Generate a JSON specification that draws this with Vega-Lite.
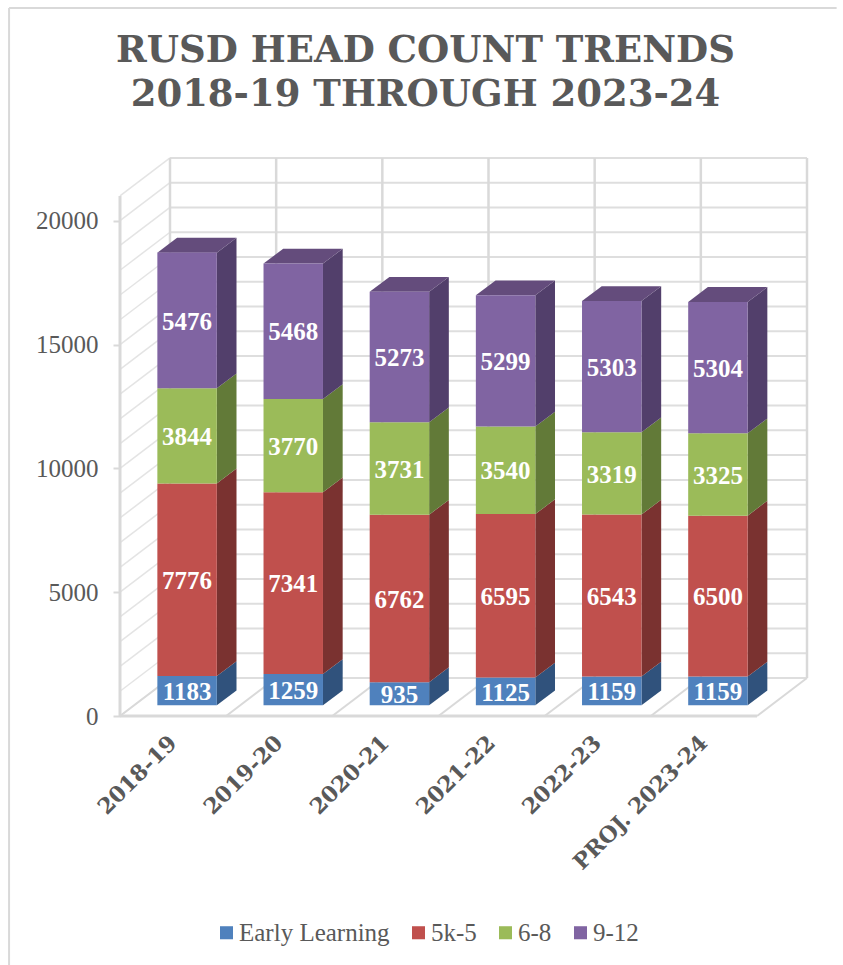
{
"$schema":"https://vega.github.io/schema/vega-lite/v6.json",
"width":637,"height":558,
"autosize":{"type":"none"},
"padding":{"left":120,"top":158,"right":86,"bottom":249},
"background":"white",
"view":{"stroke":null},
"title":{"text":["RUSD HEAD COUNT TRENDS","2018-19 THROUGH 2023-24"],"font":"DejaVu Serif","fontWeight":"bold","fontSize":37,"color":"#595959","lineHeight":44,"anchor":"middle","frame":"group","dx":-13,"offset":-136,"baseline":"alphabetic"},
"datasets":{
"enrollment":[
{"year":"2018-19","grade":"Early Learning","level":1,"value":1183},
{"year":"2018-19","grade":"5k-5","level":2,"value":7776},
{"year":"2018-19","grade":"6-8","level":3,"value":3844},
{"year":"2018-19","grade":"9-12","level":4,"value":5476},
{"year":"2019-20","grade":"Early Learning","level":1,"value":1259},
{"year":"2019-20","grade":"5k-5","level":2,"value":7341},
{"year":"2019-20","grade":"6-8","level":3,"value":3770},
{"year":"2019-20","grade":"9-12","level":4,"value":5468},
{"year":"2020-21","grade":"Early Learning","level":1,"value":935},
{"year":"2020-21","grade":"5k-5","level":2,"value":6762},
{"year":"2020-21","grade":"6-8","level":3,"value":3731},
{"year":"2020-21","grade":"9-12","level":4,"value":5273},
{"year":"2021-22","grade":"Early Learning","level":1,"value":1125},
{"year":"2021-22","grade":"5k-5","level":2,"value":6595},
{"year":"2021-22","grade":"6-8","level":3,"value":3540},
{"year":"2021-22","grade":"9-12","level":4,"value":5299},
{"year":"2022-23","grade":"Early Learning","level":1,"value":1159},
{"year":"2022-23","grade":"5k-5","level":2,"value":6543},
{"year":"2022-23","grade":"6-8","level":3,"value":3319},
{"year":"2022-23","grade":"9-12","level":4,"value":5303},
{"year":"PROJ. 2023-24","grade":"Early Learning","level":1,"value":1159},
{"year":"PROJ. 2023-24","grade":"5k-5","level":2,"value":6500},
{"year":"PROJ. 2023-24","grade":"6-8","level":3,"value":3325},
{"year":"PROJ. 2023-24","grade":"9-12","level":4,"value":5304}
],
"gridValues":[{"v":0},{"v":1000},{"v":2000},{"v":3000},{"v":4000},{"v":5000},{"v":6000},{"v":7000},{"v":8000},{"v":9000},{"v":10000},{"v":11000},{"v":12000},{"v":13000},{"v":14000},{"v":15000},{"v":16000},{"v":17000},{"v":18000},{"v":19000},{"v":20000},{"v":21000}],
"edges":[{"k":0},{"k":1},{"k":2},{"k":3},{"k":4},{"k":5},{"k":6}],
"one":[{"k":0}]
},
"data":{"name":"enrollment"},
"transform":[
{"stack":"value","groupby":["year"],"sort":[{"field":"level","order":"ascending"}],"as":["low","high"]},
{"calculate":"indexof(['2018-19','2019-20','2020-21','2021-22','2022-23','PROJ. 2023-24'],datum.year)","as":"slot"},
{"calculate":"(datum.low+datum.high)/2","as":"mid"}
],
"resolve":{"scale":{"x":"independent","color":"independent"},"axis":{"y":"independent"}},
"layer":[
{"data":{"name":"gridValues"},"mark":{"type":"rule","color":"#dedede","strokeWidth":2,"xOffset":50,"x2Offset":50,"yOffset":-38},
 "encoding":{"x":{"datum":0,"type":"quantitative","scale":{"domain":[0,6]},"axis":null},"x2":{"datum":6},
 "y":{"field":"v","type":"quantitative","scale":{"domain":[0,22532]},"axis":{"title":null,"orient":"left","format":"d","values":[0,5000,10000,15000,20000],"grid":false,"domain":false,"tickColor":"#d9d9d9","tickWidth":2,"tickSize":7,"labelPadding":15,"labelFont":"Liberation Serif","labelFontSize":25,"labelColor":"#595959"}}}},
{"data":{"name":"one"},"mark":{"type":"rule","color":"#d9d9d9","strokeWidth":2},
 "encoding":{"x":{"datum":-1.045,"type":"quantitative","scale":{"domain":[0,6]},"axis":null},
 "y":{"datum":28589,"type":"quantitative","scale":{"domain":[0,22532]},"axis":null},
 "y2":{"datum":-10054}}},
{"data":{"name":"one"},"mark":{"type":"rule","color":"#d9d9d9","strokeWidth":2},
 "encoding":{"x":{"datum":-1.045,"type":"quantitative","scale":{"domain":[0,6]},"axis":null},"x2":{"datum":6.75},
 "y":{"datum":28589,"type":"quantitative","scale":{"domain":[0,22532]},"axis":null}}},
{"data":{"name":"gridValues"},"mark":{"type":"rule","color":"#e4e4e4","strokeWidth":1.5,"x2Offset":50,"y2Offset":-38},
 "encoding":{"x":{"datum":0,"type":"quantitative","scale":{"domain":[0,6]},"axis":null},"x2":{"datum":0},
 "y":{"field":"v","type":"quantitative","scale":{"domain":[0,22532]},"axis":null},"y2":{"field":"v"}}},
{"data":{"name":"edges"},"mark":{"type":"rule","color":"#d9d9d9","strokeWidth":2.5,"xOffset":50,"yOffset":-38,"y2Offset":-38},
 "encoding":{"x":{"field":"k","type":"quantitative","scale":{"domain":[0,6]},"axis":null},
 "y":{"datum":0,"type":"quantitative","scale":{"domain":[0,22532]},"axis":null},"y2":{"datum":21000}}},
{"data":{"name":"edges"},"mark":{"type":"rule","color":"#d9d9d9","strokeWidth":2,"x2Offset":50,"y2Offset":-38},
 "encoding":{"x":{"field":"k","type":"quantitative","scale":{"domain":[0,6]},"axis":null},"x2":{"field":"k"},
 "y":{"datum":0,"type":"quantitative","scale":{"domain":[0,22532]},"axis":null},"y2":{"datum":0}}},
{"data":{"name":"one"},"mark":{"type":"rule","color":"#d9d9d9","strokeWidth":3},
 "encoding":{"x":{"datum":0,"type":"quantitative","scale":{"domain":[0,6]},"axis":null},"x2":{"datum":6},
 "y":{"datum":0,"type":"quantitative","scale":{"domain":[0,22532]},"axis":null}}},
{"data":{"name":"one"},"mark":{"type":"rule","color":"#d9d9d9","strokeWidth":3},
 "encoding":{"x":{"datum":0,"type":"quantitative","scale":{"domain":[0,6]},"axis":null},
 "y":{"datum":0,"type":"quantitative","scale":{"domain":[0,22532]},"axis":null},"y2":{"datum":21000}}},
{"transform":[{"calculate":"[0,1]","as":"depths"},{"flatten":["depths"],"as":["depth"]},
 {"calculate":"datum.slot+0.78+datum.depth*0.1855","as":"xs"},
 {"calculate":"datum.low+datum.depth*598","as":"ys0"},
 {"calculate":"datum.high+datum.depth*598","as":"ys1"}],
 "mark":{"type":"area","xOffset":14,"x2Offset":14,"yOffset":-10.7,"y2Offset":-10.7},
 "encoding":{"x":{"field":"xs","type":"quantitative","scale":{"domain":[0,6]},"axis":null},
 "y":{"field":"ys0","type":"quantitative","stack":null,"scale":{"domain":[0,22532]},"axis":null},"y2":{"field":"ys1"},
 "detail":{"field":"year"},
 "color":{"field":"grade","type":"nominal","legend":null,"scale":{"domain":["Early Learning","5k-5","6-8","9-12"],"range":["#30527c","#7a3230","#627a38","#523f6b"]}}}},
{"transform":[{"filter":"datum.level==4"},{"calculate":"[0,1]","as":"depths"},{"flatten":["depths"],"as":["depth"]},
 {"calculate":"datum.slot+0.22+datum.depth*0.1855","as":"xa"},
 {"calculate":"datum.slot+0.78+datum.depth*0.1855","as":"xb"},
 {"calculate":"datum.high+datum.depth*598","as":"yt"}],
 "mark":{"type":"area","orient":"horizontal","color":"#644c7c","xOffset":14,"x2Offset":14,"yOffset":-10.7},
 "encoding":{"x":{"field":"xa","type":"quantitative","stack":null,"scale":{"domain":[0,6]},"axis":null},"x2":{"field":"xb"},
 "y":{"field":"yt","type":"quantitative","scale":{"domain":[0,22532]},"axis":null},
 "detail":{"field":"year"}}},
{"mark":{"type":"bar","xOffset":14,"x2Offset":14,"yOffset":-10.7,"y2Offset":-10.7},
 "encoding":{"x":{"field":"year","type":"nominal","sort":null,"scale":{"paddingInner":0.44,"paddingOuter":0.22},
 "axis":{"title":null,"labelAngle":-45,"labelAlign":"right","labelBaseline":"middle","ticks":false,"domain":false,"labelPadding":23,"labelFont":"DejaVu Serif","labelFontWeight":"bold","labelFontSize":22,"labelColor":"#595959","labelOverlap":false,"labelLimit":300}},
 "y":{"field":"low","type":"quantitative","stack":null,"scale":{"domain":[0,22532]},"axis":null},"y2":{"field":"high"},
 "color":{"field":"grade","type":"nominal","scale":{"domain":["Early Learning","5k-5","6-8","9-12"],"range":["#4f81bd","#c0504d","#9bbb59","#8064a2"]},
 "legend":{"title":null,"orient":"none","legendX":94,"legendY":762,"direction":"horizontal","symbolType":"square","symbolSize":170,"symbolStrokeWidth":0,"labelFont":"Liberation Serif","labelFontSize":25,"labelColor":"#595959","labelOffset":0,"columnPadding":16}}}},
{"mark":{"type":"text","color":"white","font":"Liberation Serif","fontWeight":"bold","fontSize":25,"dx":14,"dy":-9.5,"baseline":"middle","align":"center"},
 "encoding":{"x":{"field":"year","type":"nominal","sort":null,"scale":{"paddingInner":0.44,"paddingOuter":0.22},"axis":null},
 "y":{"field":"mid","type":"quantitative","scale":{"domain":[0,22532]},"axis":null},
 "text":{"field":"value","type":"quantitative","format":"d"}}}
]
}
